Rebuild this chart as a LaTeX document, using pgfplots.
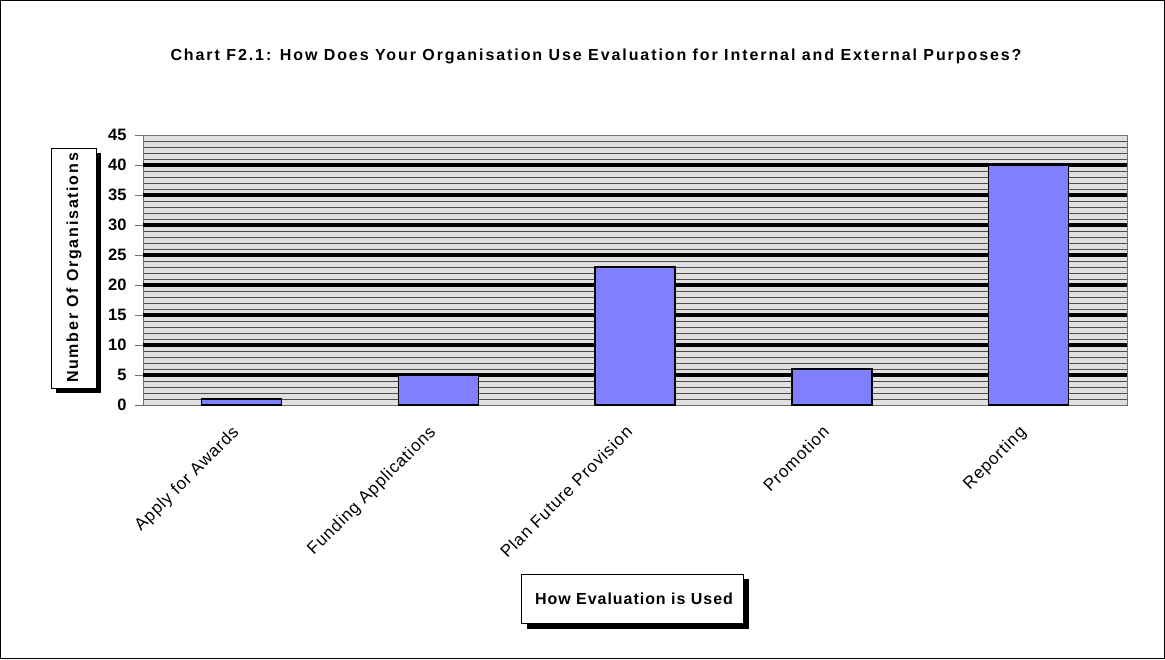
\documentclass[border=0pt]{standalone}
\usepackage{pgfplots}
\pgfplotsset{compat=1.18}
\usepackage{fontspec}
\setmainfont{Liberation Sans}
\newfontfamily\titlesans[LetterSpace=12]{Liberation Sans}
\newfontfamily\widesans[LetterSpace=11]{Liberation Sans}
\newfontfamily\midsans[LetterSpace=6]{Liberation Sans}
\newfontfamily\ticksans[LetterSpace=5]{Liberation Sans}
\definecolor{barblue}{HTML}{8080FF}
\definecolor{plotbg}{HTML}{E0E0E0}
\definecolor{axisgray}{HTML}{707070}

\begin{document}
\begin{tikzpicture}[x=1pt,y=1pt]
\useasboundingbox (0,0) rectangle (1165,659);
% outer chart frame
\draw[line width=1pt] (0.5,0.5) rectangle (1164.5,658.5);
% chart title
\node[font=\titlesans\bfseries\fontsize{16}{18}\selectfont] at (596,603)
  {Chart F2.1: How Does Your Organisation Use Evaluation for Internal and External Purposes?};
% y-axis title box with shadow
\fill[black] (56,266) rectangle (101,506);
\draw[fill=white, line width=0.6pt] (51,271) rectangle (96,511);
\node[rotate=90, font=\widesans\bfseries\fontsize{16}{16}\selectfont] at (74,391) {Number Of Organisations};
% x-axis title box with shadow
\fill[black] (527,30) rectangle (749,80);
\draw[fill=white, line width=0.6pt] (521,36) rectangle (743,85);
\node[font=\midsans\bfseries\fontsize{16}{16}\selectfont] at (634,60) {How Evaluation is Used};

\begin{axis}[
  at={(143pt,254pt)}, anchor=south west,
  scale only axis, width=984pt, height=270pt,
  xmin=-0.5, xmax=4.5, ymin=0, ymax=45,
  axis background/.style={fill=plotbg},
  axis line style={axisgray, line width=1pt},
  tick align=outside, tick pos=left,
  ytick={0,5,...,45},
  minor ytick={1,2,3,4,6,7,8,9,11,12,13,14,16,17,18,19,21,22,23,24,26,27,28,29,31,32,33,34,36,37,38,39,41,42,43,44},
  yminorgrids,
  minor grid style={black!70, line width=0.9pt},
  minor y tick style={draw=none},
  extra y ticks={5,10,...,40},
  extra y tick labels={},
  extra y tick style={ymajorgrids=true, major grid style={black, line width=3.5pt}, major tick length=0pt},
  major tick length=8pt,
  ytick style={axisgray, line width=1pt},
  yticklabel style={font=\bfseries\fontsize{16.5}{16.5}\selectfont, xshift=-5pt},
  /pgf/number format/assume math mode=true,
  xtick={0,...,4},
  xticklabels={Apply for Awards, Funding Applications, Plan Future Provision, Promotion, Reporting},
  xtick style={draw=none},
  minor xtick={-0.5,0.5,...,4.5},
  minor x tick style={axisgray, line width=1pt},
  minor tick length=7pt,
  xticklabel style={xshift=-10.5pt, yshift=-6.5pt, rotate=45, anchor=north east, font=\ticksans\fontsize{17}{17}\selectfont},
]
\addplot[ybar, bar width=80pt, fill=barblue, draw=black, line width=1.4pt]
  coordinates {(0,1) (1,5) (2,23) (3,6) (4,40)};
\end{axis}
\end{tikzpicture}
\end{document}
